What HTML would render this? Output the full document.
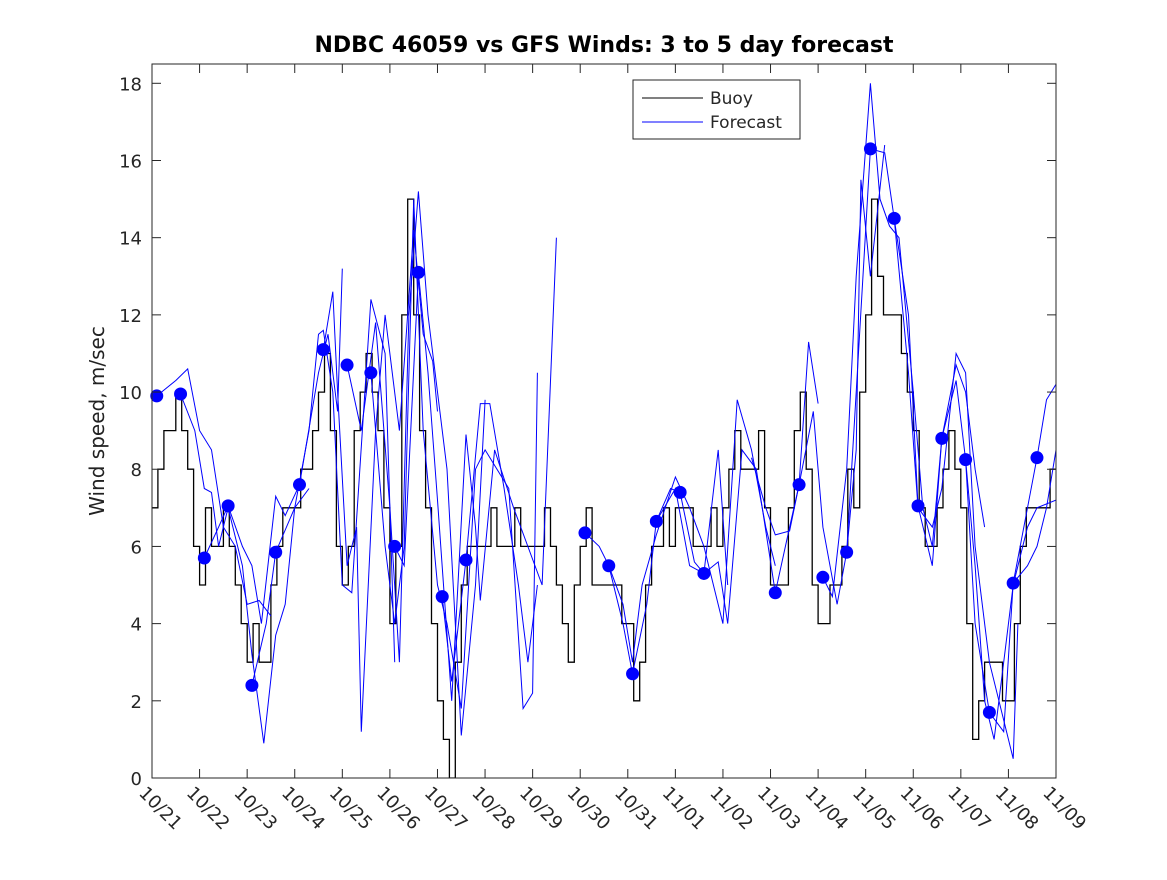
<!DOCTYPE html>
<html><head><meta charset="utf-8"><style>
body{margin:0;background:#fff}
svg text{font-family:"DejaVu Sans","Liberation Sans",sans-serif}
</style></head><body>
<svg id="c" width="1167" height="875" xmlns="http://www.w3.org/2000/svg">
<rect width="1167" height="875" fill="#fff"/>
<text x="604" y="52" text-anchor="middle" font-size="22" font-weight="bold">NDBC 46059 vs GFS Winds: 3 to 5 day forecast</text>
<text transform="translate(104,421) rotate(-90)" text-anchor="middle" font-size="20" fill="#222">Wind speed, m/sec</text>
<g id="plot"></g>
</svg>
<script>
const xTickLabels=["10/21","10/22","10/23","10/24","10/25","10/26","10/27","10/28","10/29","10/30","10/31","11/01","11/02","11/03","11/04","11/05","11/06","11/07","11/08","11/09"];
const yTicks=[0,2,4,6,8,10,12,14,16,18];
const buoy=[7,8,9,9,10,9,8,6,5,7,6,6,7,6,5,4,3,4,3,3,5,6,7,7,7,8,8,9,10,11,9,6,5,6,9,10,11,10,9,7,4,6,12,15,12,9,7,4,2,1,0,3,5,6,6,6,6,7,6,6,6,7,6,6,6,6,7,6,5,4,3,5,6,7,5,5,5,5,5,4,4,2,3,5,6,6,7,6,7,7,7,6,6,6,7,6,7,8,9,8,8,8,9,7,5,5,5,7,9,10,8,5,4,4,5,5,6,8,7,10,12,15,13,12,12,12,11,10,9,7,6,6,7,8,9,8,7,4,1,2,3,3,3,2,2,4,6,7,7,7,7,8];
const dotDays=[0.1,0.6,1.1,1.6,2.1,2.6,3.1,3.6,4.1,4.6,5.1,5.6,6.1,6.6,9.1,9.6,10.1,10.6,11.1,11.6,13.1,13.6,14.1,14.6,15.1,15.6,16.1,16.6,17.1,17.6,18.1,18.6];
const dotVals=[9.9,9.95,5.7,7.05,2.4,5.85,7.6,11.1,10.7,10.5,6.0,13.1,4.7,5.65,6.35,5.5,2.7,6.65,7.4,5.3,4.8,7.6,5.2,5.85,16.3,14.5,7.05,8.8,8.25,1.7,5.05,8.3];
const fc=[
[[0.1,9.9],[0.5,10.3],[0.75,10.6],[1.0,9.0],[1.25,8.5],[1.5,6.5],[1.75,6.0],[2.0,4.5],[2.25,4.6],[2.5,4.2]],
[[0.6,9.95],[0.9,9.0],[1.1,7.5],[1.25,7.4],[1.4,6.0],[1.6,7.0],[1.9,5.5],[2.1,3.2],[2.35,0.9],[2.6,3.7],[2.8,4.5],[3.0,7.0],[3.3,7.5]],
[[1.1,5.7],[1.4,6.5],[1.6,7.05],[1.9,6.0],[2.1,5.5],[2.3,4.0],[2.6,7.3],[2.8,6.8],[3.1,7.6],[3.5,10.5],[3.7,11.5],[3.9,9.5],[4.0,13.2]],
[[2.1,2.4],[2.4,4.0],[2.6,5.85],[3.0,7.0],[3.3,9.0],[3.5,11.5],[3.6,11.6],[3.8,10.0],[4.0,5.0],[4.2,4.8],[4.6,12.4],[4.9,11.0],[5.1,3.0]],
[[3.6,11.1],[3.8,12.6],[3.9,10.0],[4.1,5.5],[4.3,6.5],[4.4,1.2],[4.7,9.0],[4.9,12.0],[5.2,9.0],[5.5,14.2],[5.7,11.5],[5.9,10.8],[6.0,9.5]],
[[4.1,10.7],[4.4,9.0],[4.7,11.8],[5.0,7.0],[5.2,3.0],[5.4,12.0],[5.6,15.2],[5.8,12.0],[6.0,10.0],[6.2,8.0],[6.5,1.1],[6.8,5.0],[7.0,9.8]],
[[4.6,10.5],[4.9,6.0],[5.1,4.0],[5.3,6.0],[5.5,15.0],[5.7,9.0],[6.0,5.0],[6.2,4.0],[6.5,1.8],[6.8,8.0],[7.0,8.5],[7.5,7.5],[7.8,1.8],[8.0,2.2],[8.1,10.5]],
[[5.1,6.0],[5.3,5.5],[5.6,13.1],[5.8,10.5],[6.0,7.2],[6.3,2.0],[6.6,8.9],[6.8,6.5],[6.9,4.6],[7.2,8.5],[7.6,7.0],[8.2,5.0],[8.5,14.0]],
[[6.1,4.7],[6.3,2.5],[6.6,5.65],[6.9,9.7],[7.1,9.7],[7.4,7.5],[7.7,5.0],[7.9,3.0],[8.1,5.0]],
[[9.1,6.35],[9.4,6.0],[9.6,5.5],[9.9,4.0],[10.1,2.7],[10.4,4.5],[10.6,6.65],[10.9,7.5],[11.1,7.4],[11.4,5.6],[11.6,5.3],[11.9,8.5],[12.1,5.0]],
[[9.6,5.5],[9.9,4.5],[10.1,3.0],[10.3,5.0],[10.6,6.3],[11.0,7.8],[11.3,7.0],[11.6,6.0],[12.0,4.0],[12.3,9.8],[12.6,8.5],[12.9,6.5],[13.1,5.5]],
[[10.6,6.65],[11.0,7.5],[11.3,5.5],[11.6,5.3],[11.9,5.6],[12.1,4.0],[12.4,8.5],[12.7,8.0],[13.1,4.8],[13.4,6.5],[13.6,7.6],[13.8,11.3],[14.0,9.7]],
[[12.6,8.3],[12.9,7.0],[13.1,6.3],[13.4,6.4],[13.6,7.6],[13.9,9.5],[14.1,6.5],[14.4,4.5],[14.6,5.85],[14.8,8.5],[14.9,15.5],[15.1,13.0],[15.4,16.4]],
[[14.1,5.2],[14.3,4.7],[14.6,8.0],[14.8,13.0],[15.1,18.0],[15.3,15.0],[15.5,14.3],[15.7,14.0],[16.0,10.0],[16.2,7.0],[16.4,6.0],[16.6,8.8]],
[[14.6,5.85],[14.8,10.0],[15.1,16.3],[15.4,16.2],[15.6,14.5],[15.9,12.0],[16.1,7.05],[16.4,5.5],[16.6,8.8],[16.9,10.7],[17.1,10.0],[17.3,8.0],[17.5,6.5]],
[[15.6,14.5],[15.9,10.5],[16.1,7.0],[16.4,6.5],[16.6,7.5],[16.9,11.0],[17.1,10.5],[17.3,6.0],[17.6,3.0],[17.9,1.5],[18.1,0.5],[18.2,4.0]],
[[16.6,8.8],[16.9,10.3],[17.1,8.25],[17.3,5.5],[17.5,2.0],[17.7,1.0],[17.9,3.0],[18.1,5.0],[18.4,6.5],[18.6,7.0],[19.0,7.2]],
[[17.1,8.25],[17.3,4.0],[17.6,1.7],[17.9,1.2],[18.1,5.05],[18.4,7.0],[18.6,8.3],[18.8,9.8],[19.0,10.2]],
[[18.1,5.05],[18.4,5.5],[18.6,6.0],[18.8,7.0],[19.0,8.5]]
];
const L=152,R=1056,T=64,B=778,XMAX=19,YMAX=18.5;
const X=d=>L+(R-L)*d/XMAX, Y=v=>B-(B-T)*v/YMAX;
const NS="http://www.w3.org/2000/svg", g=document.getElementById('plot');
function mk(tag,at){const e=document.createElementNS(NS,tag);for(const k in at)e.setAttribute(k,at[k]);g.appendChild(e);return e;}
const cp=mk('clipPath',{id:'cl'});const cr=document.createElementNS(NS,'rect');cr.setAttribute('x',L);cr.setAttribute('y',T);cr.setAttribute('width',R-L);cr.setAttribute('height',B-T);cp.appendChild(cr);
let d='';const step=0.125;
buoy.forEach((v,i)=>{const x0=X(i*step),x1=X((i+1)*step);d+=(i?'L':'M')+x0.toFixed(1)+','+Y(v).toFixed(1)+'L'+x1.toFixed(1)+','+Y(v).toFixed(1);});
const bl=mk('path',{d:d,fill:'none',stroke:'#000','stroke-width':1.3,'clip-path':'url(#cl)'});


fc.forEach((s,i)=>{const p=mk('polyline',{points:s.map(q=>X(q[0]).toFixed(1)+','+Y(q[1]).toFixed(1)).join(' '),fill:'none',stroke:'#0000ff','stroke-width':1,'clip-path':'url(#cl)'});

});
dotDays.forEach((t,i)=>{const c=mk('circle',{cx:X(t),cy:Y(dotVals[i]),r:6.5,fill:'#0000ff'});

});
const ax=mk('rect',{x:L,y:T,width:R-L,height:B-T,fill:'none',stroke:'#262626','stroke-width':1});


xTickLabels.forEach((s,i)=>{const x=X(i);mk('line',{x1:x,x2:x,y1:B,y2:B-9,stroke:'#262626'});mk('line',{x1:x,x2:x,y1:T,y2:T+9,stroke:'#262626'});
const t=mk('text',{transform:`translate(${x-14},${B+16}) rotate(45)`,'font-size':18,fill:'#262626'});t.textContent=s;

});
yTicks.forEach(v=>{const y=Y(v);mk('line',{x1:L,x2:L+9,y1:y,y2:y,stroke:'#262626'});mk('line',{x1:R,x2:R-9,y1:y,y2:y,stroke:'#262626'});
const t=mk('text',{x:L-10,y:y+7,'text-anchor':'end','font-size':18,fill:'#262626'});t.textContent=v;

});
const lg=mk('rect',{x:633,y:80,width:167,height:59,fill:'#fff',stroke:'#262626'});


mk('line',{x1:642,x2:703,y1:98,y2:98,stroke:'#000'});
mk('line',{x1:642,x2:703,y1:122,y2:122,stroke:'#0000ff'});
const l1=mk('text',{x:710,y:104,'font-size':17,fill:'#262626'});l1.textContent='Buoy';


const l2=mk('text',{x:710,y:128,'font-size':17,fill:'#262626'});l2.textContent='Forecast';


</script>
</body></html>
